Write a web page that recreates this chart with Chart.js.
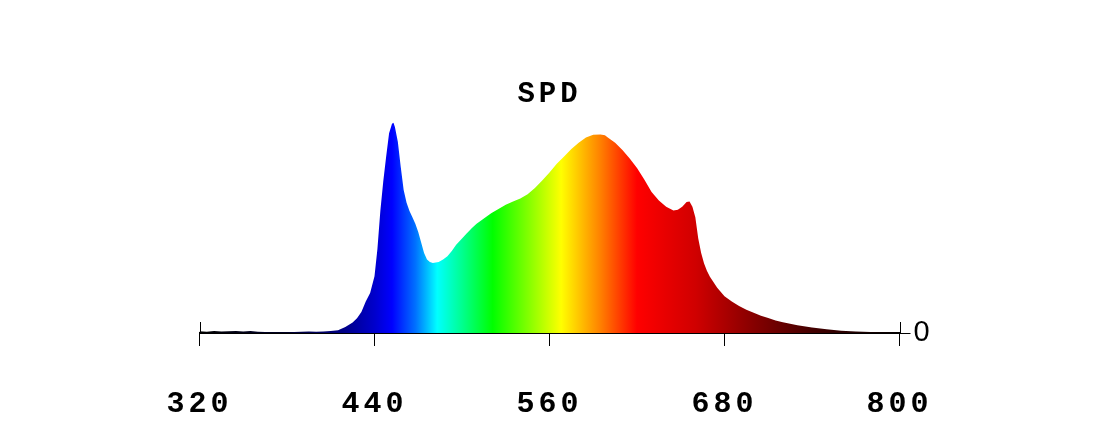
<!DOCTYPE html>
<html>
<head>
<meta charset="utf-8">
<script src="https://cdn.jsdelivr.net/npm/chart.js@4/dist/chart.umd.min.js"></script>
<style>
  html, body { margin: 0; padding: 0; background: #fff; }
  #wrap { width: 1108px; height: 443px; }
</style>
</head>
<body>
<div id="wrap"><canvas id="spd"></canvas></div>
<script>
// wavelength (nm) and relative spectral power
const wavelengths = [
  320, 325, 330, 335, 340, 345, 350, 355, 360, 365, 370, 375, 380, 385, 390, 395,
  400, 405, 410, 415, 420, 425, 428, 431, 434, 437, 440, 442, 444, 446, 448, 450,
  452, 453, 454, 456, 458, 460, 462, 464, 466, 468, 470, 472, 474, 476, 478, 480,
  482, 484, 487, 490, 493, 496, 500, 503, 507, 510, 515, 520, 525, 530, 535, 540,
  545, 550, 555, 560, 565, 570, 575, 580, 585, 590, 595, 598, 600, 605, 610, 615,
  620, 625, 630, 635, 640, 645, 648, 651, 654, 656, 658, 660, 662, 664, 666, 668,
  670, 675, 680, 685, 690, 695, 700, 705, 710, 715, 720, 730, 740, 750, 760, 770,
  780, 790, 800
];
const spdValues = [
  0.8, 0.6, 0.9, 0.7, 0.8, 1.0, 0.7, 0.9, 0.6, 0.5, 0.4, 0.3, 0.4, 0.5, 0.6, 0.7,
  0.6, 0.7, 0.9, 1.3, 2.8, 5.0, 7.0, 10, 15, 19, 27, 40, 58, 72, 84, 95,
  99.5, 100, 98, 91, 79, 68, 62, 58, 55, 52, 48, 43, 38, 35, 33.8, 33.3,
  33.5, 33.8, 35, 36.5, 39, 42, 45, 47.2, 50, 52, 54.5, 57, 59, 61, 62.5, 64,
  66, 69, 72.5, 76.3, 80.5, 84, 87.5, 90.5, 93, 94.3, 94.4, 94, 93, 90.5, 87, 83,
  78.5, 73, 67, 63, 60, 58.3, 58.6, 60, 62.3, 62.5, 60, 55, 45, 38, 33, 29.5,
  26.7, 21.5, 17.5, 15, 12.8, 11, 9.6, 8.2, 7.1, 6, 5.1, 3.7, 2.6, 1.8, 1.1, 0.7,
  0.5, 0.3, 0.2
];
const xTicks = [320, 440, 560, 680, 800];
const yTicks = [0];

// spectrum colour stops for the fill (nm -> colour)
const spectrumStops = [
  [320, '#000000'], [380, '#000030'], [420, '#00008a'], [440, '#0000cc'],
  [452, '#0000ff'], [468, '#0070ff'], [483, '#00ffff'], [500, '#00ff90'],
  [521, '#00ff00'], [545, '#80ff00'], [568, '#ffff00'], [595, '#ff8000'],
  [620, '#ff0000'], [660, '#d00000'], [700, '#860000'], [740, '#440000'],
  [780, '#160000'], [800, '#0a0000']
];

const points = wavelengths.map((w, i) => ({ x: w, y: spdValues[i] }));

function spectrumFill(context) {
  const chart = context.chart;
  if (!chart.chartArea) return '#0000ff';
  const xs = chart.scales.x;
  const left = xs.getPixelForValue(320), right = xs.getPixelForValue(800);
  const g = chart.ctx.createLinearGradient(left, 0, right, 0);
  spectrumStops.forEach(([w, c]) => g.addColorStop((w - 320) / 480, c));
  return g;
}

// wide monospace lettering like the original
const spacingPlugin = {
  id: 'spacing',
  beforeDraw(chart) { chart.ctx.letterSpacing = '4px'; },
  afterDraw(chart) { chart.ctx.letterSpacing = '0px'; }
};

// short upward marks at both ends of the axis
const endMarks = {
  id: 'endMarks',
  afterDatasetsDraw(chart) {
    const ctx = chart.ctx, xs = chart.scales.x, ys = chart.scales.y;
    const y0 = ys.getPixelForValue(0);
    ctx.save();
    ctx.strokeStyle = '#000';
    ctx.lineWidth = 1;
    [320, 800].forEach(v => {
      const px = Math.round(xs.getPixelForValue(v)) + 0.5;
      ctx.beginPath();
      ctx.moveTo(px, y0 - 11);
      ctx.lineTo(px, y0);
      ctx.stroke();
    });
    ctx.restore();
  }
};

new Chart(document.getElementById('spd'), {
  type: 'line',
  data: {
    datasets: [{
      data: points,
      xAxisID: 'x',
      yAxisID: 'y',
      fill: 'origin',
      backgroundColor: spectrumFill,
      borderWidth: 0,
      pointRadius: 0,
      tension: 0
    }]
  },
  options: {
    responsive: true,
    maintainAspectRatio: false,
    animation: false,
    events: [],
    layout: { padding: { left: 0, right: 9, top: 0, bottom: 0 } },
    plugins: {
      legend: { display: false },
      tooltip: { enabled: false },
      title: {
        display: true,
        text: 'SPD',
        color: '#000',
        font: { family: 'Liberation Mono', weight: 'bold', size: 29 },
        padding: { top: 77, bottom: 4 }
      }
    },
    scales: {
      x: {
        type: 'linear',
        min: 320,
        max: 800,
        afterBuildTicks: s => { s.ticks = xTicks.map(v => ({ value: v })); },
        afterFit: s => { s.height = 110; },
        grid: { drawOnChartArea: false, color: '#000', tickLength: 13, lineWidth: 1 },
        border: { display: true, color: '#000', width: 2 },
        ticks: {
          color: '#000',
          padding: 40,
          maxRotation: 0,
          font: { family: 'Liberation Mono', weight: 'bold', size: 30 }
        }
      },
      y: {
        position: 'right',
        min: 0,
        max: 103.3,
        afterBuildTicks: s => { s.ticks = yTicks.map(v => ({ value: v })); },
        afterFit: s => { s.width = 199.5; },
        grid: { drawOnChartArea: false, color: '#000', tickLength: 11, lineWidth: 1 },
        border: { display: false },
        ticks: {
          color: '#000',
          padding: 3,
          font: { family: 'Liberation Sans', size: 29 }
        }
      },
      // empty spacer on the left so the plot sits where the original does
      yl: {
        position: 'left',
        min: 0,
        max: 1,
        afterFit: s => { s.width = 199.5; },
        grid: { display: false },
        border: { display: false },
        ticks: { display: false }
      }
    }
  },
  plugins: [spacingPlugin, endMarks]
});
</script>
</body>
</html>
